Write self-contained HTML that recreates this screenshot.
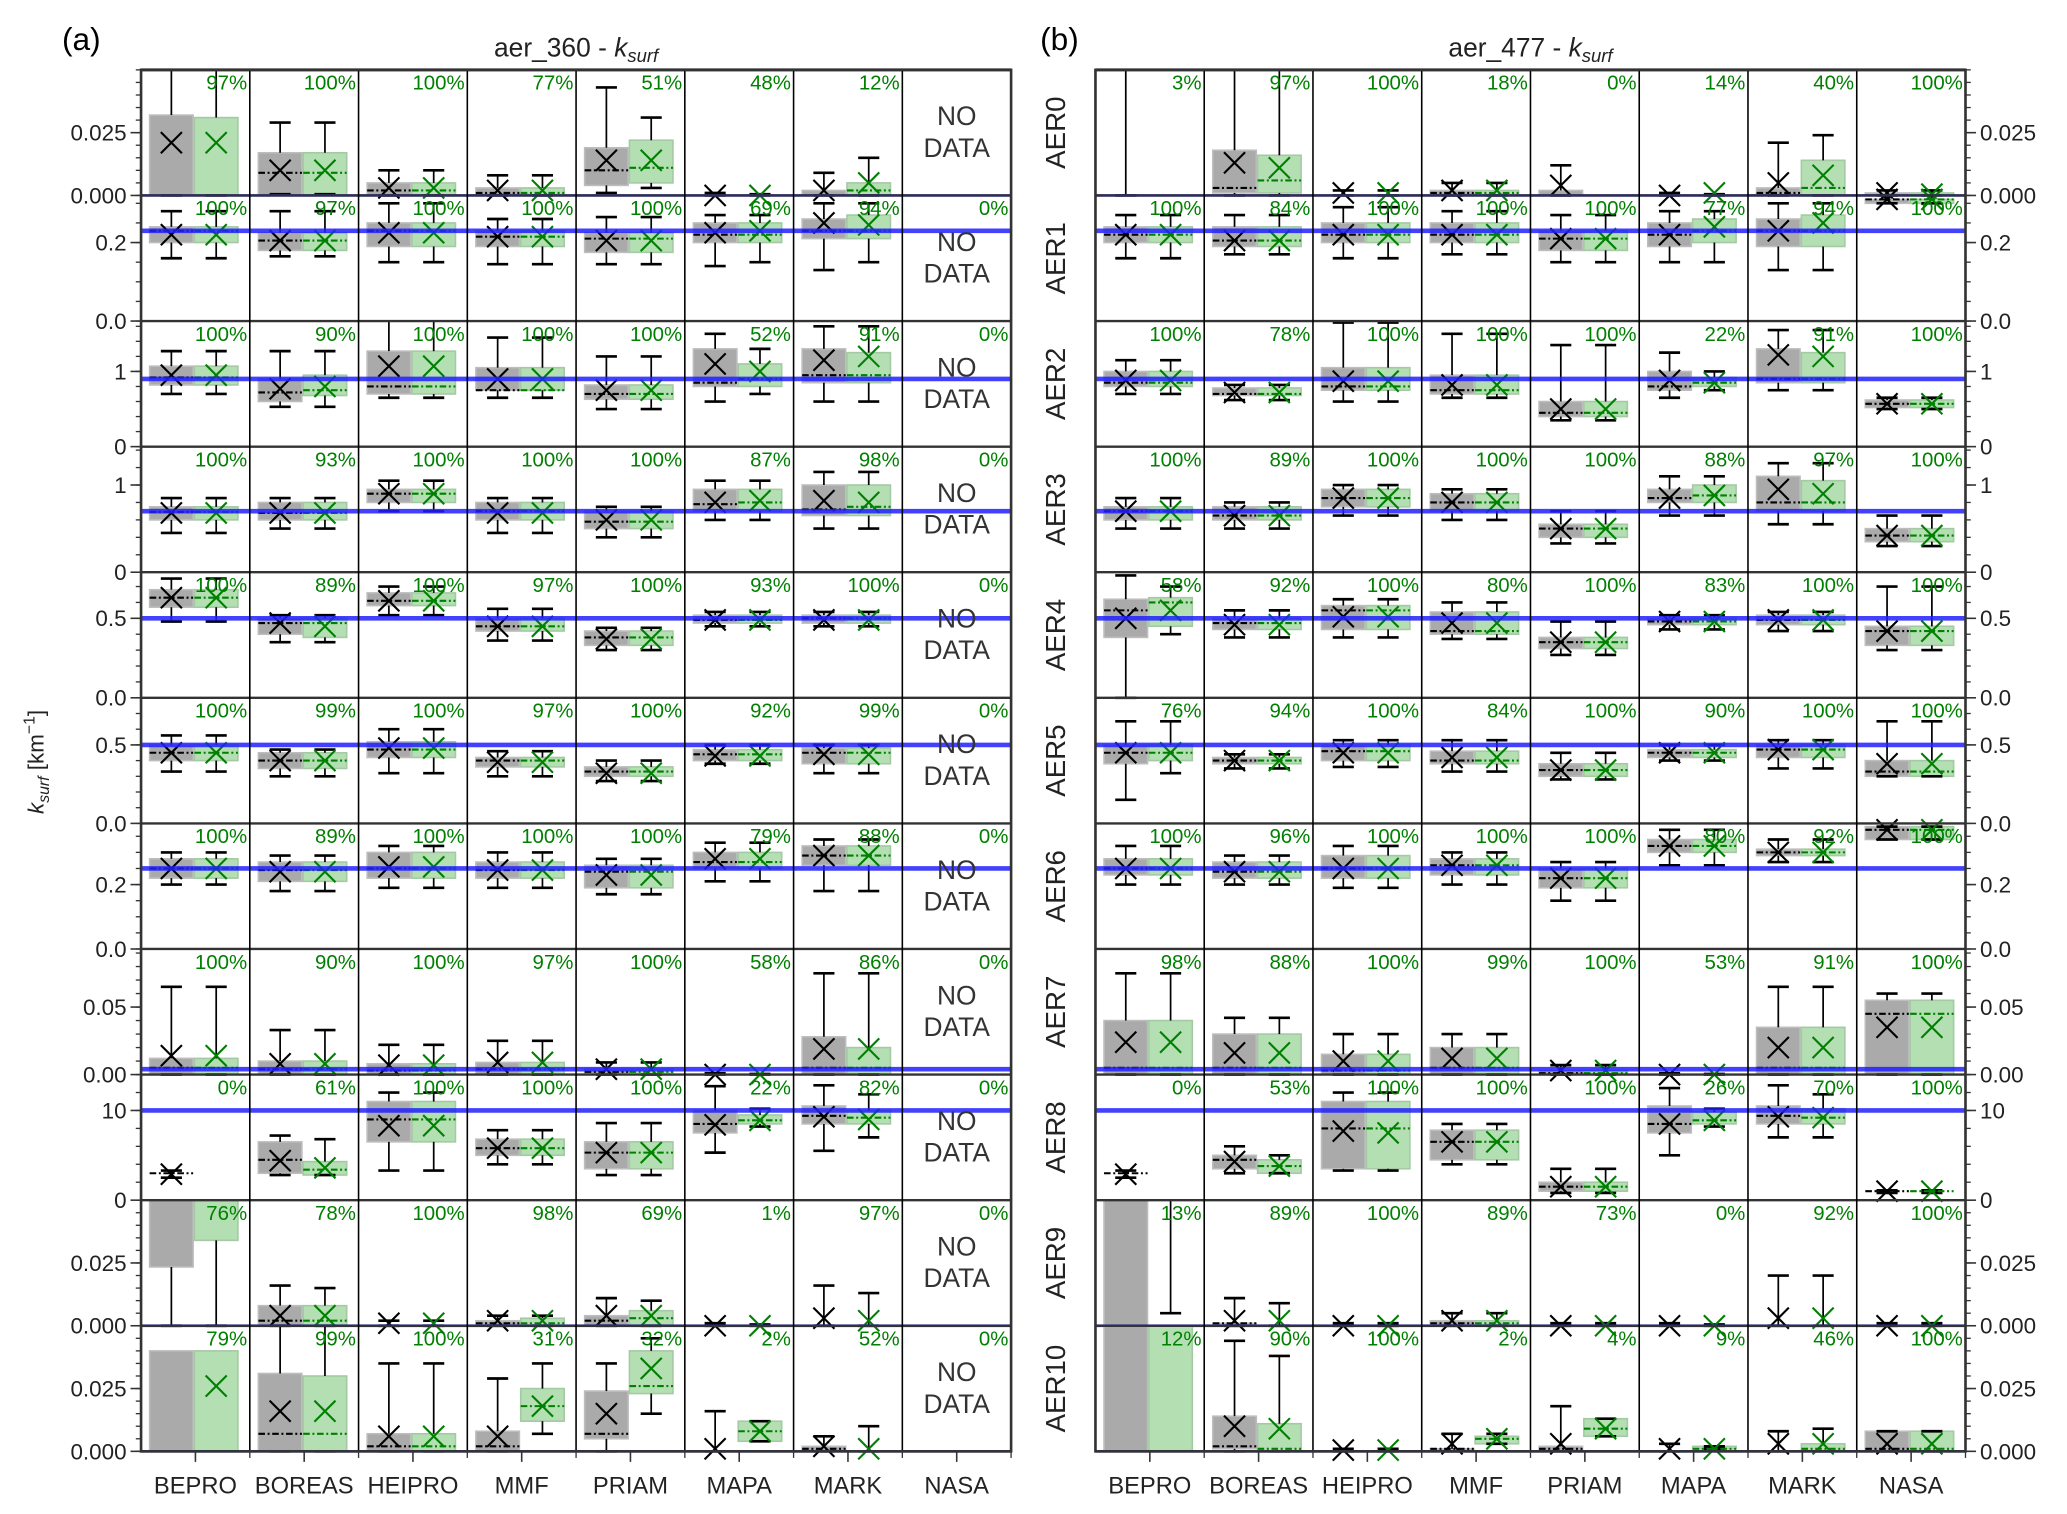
<!DOCTYPE html>
<html><head><meta charset="utf-8"><style>
html,body{margin:0;padding:0;background:#fff}
svg{display:block}
text{font-family:"Liberation Sans",sans-serif}
</style></head><body>
<svg id="chart" width="2067" height="1514" viewBox="0 0 1568 1148.5" xmlns="http://www.w3.org/2000/svg"></svg>
<script>
// ---- data ----
const models = ["BEPRO","BOREAS","HEIPRO","MMF","PRIAM","MAPA","MARK","NASA"];
const rowLabels = ["AER0","AER1","AER2","AER3","AER4","AER5","AER6","AER7","AER8","AER9","AER10"];
const rowMax = [0.05,0.32,1.67,1.44,0.79,0.8,0.39,0.093,14,0.05,0.05];
const rowTicks = [[0,0.025],[0,0.2],[0,1],[0,1],[0,0.5],[0,0.5],[0,0.2],[0,0.05],[0,10],[0,0.025],[0,0.025]];
const rowTickLabels = [["0.000","0.025"],["0.0","0.2"],["0","1"],["0","1"],["0.0","0.5"],["0.0","0.5"],["0.0","0.2"],["0.00","0.05"],["0","10"],["0.000","0.025"],["0.000","0.025"]];
const rowMinor = [0.005,0.05,0.2,0.2,0.1,0.1,0.05,0.01,2,0.005,0.005];
const refValues = [0,0.23,0.9,0.7,0.5,0.5,0.25,0.004,10,0,0];
// box stats: [low whisker, q1, median, q3, high whisker, mean]; null = absent
const pctA = [
 ["97%","100%","100%","77%","51%","48%","12%",""],
 ["100%","97%","100%","100%","100%","69%","94%","0%"],
 ["100%","90%","100%","100%","100%","52%","91%","0%"],
 ["100%","93%","100%","100%","100%","87%","98%","0%"],
 ["100%","89%","100%","97%","100%","93%","100%","0%"],
 ["100%","99%","100%","97%","100%","92%","99%","0%"],
 ["100%","89%","100%","100%","100%","79%","88%","0%"],
 ["100%","90%","100%","97%","100%","58%","86%","0%"],
 ["0%","61%","100%","100%","100%","22%","82%","0%"],
 ["76%","78%","100%","98%","69%","1%","97%","0%"],
 ["79%","99%","100%","31%","32%","2%","52%","0%"]];
const grayA = [
 [[0,0,null,0.032,0.06,0.021],[0.0005,0,0.009,0.017,0.029,0.010],[0,0,0.002,0.005,0.010,0.003],[0,0,0.001,0.003,0.008,0.002],[0.001,0.004,0.010,0.019,0.043,0.014],[0,null,null,null,0.001,0],[0,0,null,0.002,0.009,0.002],null],
 [[0.16,0.2,0.23,0.24,0.28,0.22],[0.165,0.18,0.205,0.225,0.28,0.205],[0.15,0.19,0.23,0.25,0.3,0.225],[0.145,0.19,0.215,0.23,0.26,0.215],[0.145,0.175,0.21,0.225,0.265,0.205],[0.14,0.2,0.22,0.25,0.27,0.225],[0.13,0.21,0.23,0.26,0.3,0.25],null],
 [[0.7,0.82,0.92,1.07,1.27,0.95],[0.53,0.6,0.72,0.9,1.27,0.77],[0.65,0.7,0.8,1.27,1.7,1.07],[0.65,0.75,0.75,1.05,1.45,0.9],[0.5,0.63,0.7,0.82,1.2,0.75],[0.6,0.8,0.85,1.3,1.5,1.1],[0.6,0.85,0.95,1.3,1.6,1.15],null],
 [[0.45,0.6,0.69,0.75,0.85,0.68],[0.5,0.6,0.68,0.8,0.85,0.68],[0.7,0.8,0.9,0.95,1.05,0.9],[0.45,0.6,0.7,0.8,0.85,0.68],[0.4,0.5,0.58,0.7,0.75,0.6],[0.6,0.7,0.78,0.95,1.05,0.8],[0.5,0.65,0.72,1.0,1.15,0.82],null],
 [[0.48,0.57,0.63,0.68,0.75,0.63],[0.35,0.4,0.47,0.5,0.52,0.47],[0.52,0.58,0.61,0.66,0.7,0.61],[0.36,0.42,0.45,0.5,0.56,0.45],[0.3,0.33,0.38,0.42,0.44,0.37],[0.45,0.47,0.49,0.52,0.54,0.49],[0.45,0.47,0.5,0.52,0.54,0.49],null],
 [[0.33,0.4,0.45,0.5,0.56,0.45],[0.3,0.35,0.4,0.45,0.47,0.4],[0.32,0.42,0.47,0.52,0.6,0.48],[0.3,0.36,0.4,0.42,0.46,0.39],[0.27,0.3,0.33,0.36,0.4,0.32],[0.38,0.4,0.44,0.47,0.5,0.43],[0.32,0.38,0.45,0.48,0.5,0.44],null],
 [[0.2,0.22,0.25,0.28,0.3,0.25],[0.18,0.21,0.245,0.27,0.29,0.24],[0.19,0.22,0.25,0.3,0.32,0.255],[0.19,0.22,0.245,0.27,0.3,0.245],[0.17,0.19,0.24,0.26,0.28,0.23],[0.21,0.25,0.27,0.3,0.33,0.28],[0.18,0.26,0.29,0.32,0.34,0.29],null],
 [[0,0,0.005,0.012,0.065,0.014],[0,0,0.004,0.01,0.033,0.008],[0,0,0.003,0.008,0.022,0.007],[0,0,0.004,0.009,0.025,0.009],[0,0,0.002,0.004,0.009,0.004],[0,null,null,null,0.001,0],[0,0,0.005,0.028,0.075,0.019],null],
 [[2.5,null,3.0,null,3.3,2.9],[2.8,3,4.5,6.5,7.2,4.4],[3.3,6.5,9,11,12,8.3],[4,5,5.8,6.8,7.8,5.8],[2.8,3.5,5.3,6.5,8.6,5.3],[5.3,7.5,8.5,10,12.7,8.4],[5.5,8.5,9.4,10.5,12.8,9.3],null],
 [[0,0.0234,null,0.06,0.06,null],[0,0,0.002,0.008,0.016,0.004],[0,null,null,null,0.002,0.001],[0,0,0.001,0.002,0.004,0.002],[0,0,0.002,0.004,0.011,0.004],[0,null,null,null,0.001,0],[0,null,null,null,0.016,0.003],null],
 [[0,0,null,0.04,null,null],[0,0,0.007,0.031,0.05,0.016],[0,0,0.002,0.007,0.035,0.006],[0,0,0.002,0.008,0.029,0.006],[0,0.005,0.007,0.024,0.035,0.015],[0,null,null,null,0.016,0.001],[0,0,0.001,0.002,0.006,0.002],null]];
const greenA = [
 [[0,0,null,0.031,0.06,0.021],[0.0005,0,0.009,0.017,0.029,0.010],[0,0,0.002,0.005,0.010,0.003],[0,0,0.001,0.003,0.008,0.002],[0.003,0.005,0.011,0.022,0.031,0.014],[0,null,null,null,0.0005,0],[0,0,0.002,0.005,0.015,0.005],null],
 [[0.16,0.2,0.23,0.24,0.28,0.22],[0.165,0.18,0.205,0.225,0.28,0.205],[0.15,0.19,0.23,0.25,0.3,0.225],[0.145,0.19,0.215,0.23,0.26,0.215],[0.145,0.175,0.21,0.225,0.265,0.205],[0.15,0.2,0.22,0.25,0.27,0.23],[0.15,0.21,0.23,0.27,0.3,0.245],null],
 [[0.7,0.82,0.92,1.07,1.27,0.95],[0.53,0.68,0.75,0.95,1.27,0.8],[0.65,0.7,0.8,1.27,1.7,1.07],[0.65,0.75,0.75,1.05,1.45,0.9],[0.5,0.63,0.7,0.82,1.2,0.75],[0.7,0.8,0.9,1.1,1.3,1.0],[0.6,0.85,0.95,1.25,1.6,1.2],null],
 [[0.45,0.6,0.69,0.75,0.85,0.68],[0.5,0.6,0.68,0.8,0.85,0.68],[0.7,0.8,0.9,0.95,1.05,0.9],[0.45,0.6,0.7,0.8,0.85,0.68],[0.4,0.5,0.58,0.7,0.75,0.6],[0.6,0.7,0.8,0.95,1.05,0.82],[0.5,0.65,0.75,1.0,1.15,0.8],null],
 [[0.48,0.57,0.63,0.68,0.75,0.63],[0.35,0.38,0.47,0.5,0.52,0.45],[0.52,0.58,0.61,0.66,0.7,0.61],[0.36,0.42,0.45,0.5,0.56,0.45],[0.3,0.33,0.38,0.42,0.44,0.37],[0.45,0.47,0.49,0.52,0.54,0.49],[0.45,0.47,0.5,0.52,0.54,0.49],null],
 [[0.33,0.4,0.45,0.5,0.56,0.45],[0.3,0.35,0.4,0.45,0.47,0.4],[0.32,0.42,0.47,0.52,0.6,0.48],[0.3,0.36,0.4,0.42,0.46,0.39],[0.27,0.3,0.33,0.36,0.4,0.32],[0.38,0.4,0.44,0.47,0.5,0.43],[0.32,0.38,0.45,0.48,0.5,0.44],null],
 [[0.2,0.22,0.25,0.28,0.3,0.25],[0.18,0.21,0.245,0.27,0.29,0.24],[0.19,0.22,0.25,0.3,0.32,0.255],[0.19,0.22,0.245,0.27,0.3,0.245],[0.17,0.19,0.24,0.26,0.28,0.23],[0.21,0.25,0.27,0.3,0.33,0.28],[0.18,0.26,0.29,0.32,0.34,0.29],null],
 [[0,0,0.005,0.012,0.065,0.014],[0,0,0.004,0.01,0.033,0.008],[0,0,0.003,0.008,0.022,0.007],[0,0,0.004,0.009,0.025,0.009],[0,0,0.002,0.004,0.009,0.004],[0,null,null,null,0.0005,0],[0,0,0.005,0.02,0.075,0.019],null],
 [null,[2.8,2.8,3.4,4.3,6.8,3.6],[3.3,6.5,9,11,12,8.3],[4,5,5.8,6.8,7.8,5.8],[2.8,3.5,5.3,6.5,8.6,5.3],[8.2,8.5,8.9,9.5,10.2,8.9],[7,8.5,9.2,10,11.8,9.0],null],
 [[0,0.034,null,0.06,0.06,null],[0,0,0.002,0.008,0.015,0.004],[0,null,null,null,0.002,0.001],[0,0,0.001,0.003,0.004,0.002],[0,0,0.003,0.006,0.01,0.004],[0,null,null,null,0.0005,0],[0,null,null,null,0.013,0.002],null],
 [[0,0,null,0.04,null,0.026],[0,0,0.007,0.03,0.05,0.016],[0,0,0.002,0.007,0.035,0.006],[0.007,0.012,0.018,0.025,0.035,0.018],[0.015,0.023,0.026,0.04,0.045,0.033],[0.004,0.004,0.008,0.012,0.012,0.008],[0,null,null,null,0.01,0.001],null]];
const pctB = [
 ["3%","97%","100%","18%","0%","14%","40%","100%"],
 ["100%","84%","100%","100%","100%","77%","94%","100%"],
 ["100%","78%","100%","100%","100%","22%","91%","100%"],
 ["100%","89%","100%","100%","100%","88%","97%","100%"],
 ["58%","92%","100%","80%","100%","83%","100%","100%"],
 ["76%","94%","100%","84%","100%","90%","100%","100%"],
 ["100%","96%","100%","100%","100%","80%","92%","100%"],
 ["98%","88%","100%","99%","100%","53%","91%","100%"],
 ["0%","53%","100%","100%","100%","26%","70%","100%"],
 ["13%","89%","100%","89%","73%","0%","92%","100%"],
 ["12%","90%","100%","2%","4%","9%","46%","100%"]];
const grayB = [
 [[0,null,null,null,0.06,null],[0,0.001,0.003,0.018,0.06,0.013],[0,null,null,null,0.002,0.001],[0,0,0.001,0.002,0.005,0.002],[0,0,null,0.002,0.012,0.004],[0,null,null,null,0.001,0],[0,0,0.001,0.003,0.021,0.005],[0,0,0,0.001,0.002,0.001]],
 [[0.16,0.2,0.22,0.24,0.27,0.22],[0.17,0.19,0.205,0.24,0.27,0.205],[0.16,0.2,0.22,0.25,0.29,0.22],[0.17,0.2,0.22,0.25,0.28,0.22],[0.15,0.18,0.21,0.23,0.27,0.21],[0.15,0.19,0.22,0.25,0.28,0.22],[0.13,0.19,0.23,0.26,0.3,0.23],[0.3,0.3,0.31,0.31,0.32,0.31]],
 [[0.7,0.8,0.85,1.0,1.15,0.88],[0.62,0.68,0.7,0.78,0.82,0.72],[0.6,0.75,0.8,1.05,1.65,0.87],[0.65,0.7,0.75,0.95,1.5,0.82],[0.35,0.4,0.45,0.6,1.35,0.5],[0.65,0.75,0.8,1.0,1.25,0.88],[0.75,0.85,0.9,1.3,1.55,1.22],[0.5,0.52,0.57,0.62,0.65,0.57]],
 [[0.5,0.6,0.7,0.75,0.85,0.7],[0.5,0.6,0.65,0.75,0.8,0.65],[0.65,0.75,0.85,0.95,1.0,0.85],[0.6,0.7,0.8,0.9,0.95,0.8],[0.33,0.4,0.5,0.55,0.7,0.5],[0.65,0.8,0.85,0.95,1.1,0.85],[0.55,0.7,0.8,1.1,1.25,0.95],[0.3,0.35,0.42,0.5,0.65,0.42]],
 [[0,0.38,0.55,0.62,0.77,0.5],[0.38,0.43,0.47,0.5,0.55,0.46],[0.38,0.43,0.55,0.58,0.62,0.51],[0.37,0.4,0.42,0.54,0.6,0.47],[0.27,0.31,0.35,0.38,0.48,0.35],[0.43,0.46,0.48,0.5,0.52,0.48],[0.42,0.46,0.49,0.52,0.54,0.49],[0.3,0.33,0.42,0.45,0.7,0.42]],
 [[0.15,0.38,0.45,0.5,0.65,0.45],[0.35,0.38,0.4,0.42,0.44,0.4],[0.36,0.4,0.46,0.5,0.53,0.45],[0.33,0.38,0.4,0.46,0.53,0.42],[0.28,0.3,0.34,0.38,0.45,0.34],[0.4,0.42,0.45,0.47,0.5,0.45],[0.35,0.42,0.47,0.5,0.53,0.47],[0.3,0.3,0.33,0.4,0.65,0.38]],
 [[0.2,0.23,0.25,0.28,0.32,0.25],[0.2,0.22,0.24,0.27,0.29,0.24],[0.19,0.22,0.25,0.29,0.32,0.25],[0.2,0.23,0.26,0.28,0.3,0.26],[0.15,0.19,0.22,0.25,0.27,0.22],[0.26,0.3,0.32,0.34,0.37,0.32],[0.27,0.29,0.3,0.31,0.34,0.3],[0.34,0.34,0.37,0.38,0.38,0.37]],
 [[0,0,0.005,0.04,0.075,0.024],[0,0,0.005,0.03,0.042,0.016],[0,0,0.003,0.015,0.03,0.01],[0,0,0.005,0.02,0.03,0.012],[0,0,0.001,0.003,0.007,0.003],[0,null,null,null,0.001,0],[0,0,0.005,0.035,0.065,0.02],[0,0,0.045,0.055,0.06,0.035]],
 [[2.5,null,3.0,null,3.3,2.9],[3,3.5,4.5,5,6,4.3],[3.3,3.5,8,11,12,7.7],[4,4.5,6.5,7.8,8.5,6.5],[0.8,1,1.5,2,3.5,1.5],[5,7.5,8.5,10.5,12.5,8.5],[7,8.5,9.4,10.5,12.8,9.3],[0.8,null,1.0,null,1.1,1.0]],
 [[0,0,null,0.06,null,null],[0,0,0.001,0.001,0.011,0.002],[0,null,null,null,0.001,0],[0,0,0.001,0.002,0.005,0.002],[0,null,null,null,0.001,0],[0,null,null,null,0.001,0],[0,null,null,null,0.02,0.003],[0,null,null,null,0.001,0]],
 [[0,0,null,0.06,null,null],[0,0.001,0.002,0.014,0.044,0.01],[0,null,null,null,0.001,0.0005],[0,0,0.001,0.001,0.007,0.003],[0,0,0.001,0.002,0.018,0.003],[0,null,null,null,0.003,0.001],[0,null,null,null,0.008,0.003],[0,0,0.001,0.008,0.008,0.003]]];
const greenB = [
 [null,[0,0.001,0.006,0.016,0.055,0.011],[0,null,null,null,0.002,0.001],[0,0,0.001,0.002,0.005,0.002],null,[0,null,null,null,0.0005,0.001],[0,0,0.003,0.014,0.024,0.008],[0,0,0,0.001,0.002,0.0005]],
 [[0.16,0.2,0.22,0.24,0.27,0.22],[0.17,0.19,0.205,0.24,0.27,0.205],[0.16,0.2,0.22,0.25,0.29,0.22],[0.17,0.2,0.22,0.25,0.28,0.22],[0.15,0.18,0.21,0.23,0.27,0.21],[0.15,0.2,0.23,0.26,0.28,0.24],[0.13,0.19,0.23,0.27,0.3,0.25],[0.3,0.3,0.31,0.31,0.32,0.31]],
 [[0.7,0.8,0.85,1.0,1.15,0.88],[0.62,0.68,0.7,0.78,0.82,0.72],[0.6,0.75,0.8,1.05,1.65,0.87],[0.65,0.7,0.75,0.95,1.5,0.82],[0.35,0.4,0.45,0.6,1.35,0.5],[0.75,0.8,0.85,0.92,1.0,0.85],[0.75,0.85,0.9,1.25,1.55,1.2],[0.5,0.52,0.57,0.62,0.65,0.57]],
 [[0.5,0.6,0.7,0.75,0.85,0.7],[0.5,0.6,0.65,0.75,0.8,0.65],[0.65,0.75,0.85,0.95,1.0,0.85],[0.6,0.7,0.8,0.9,0.95,0.8],[0.33,0.4,0.5,0.55,0.7,0.5],[0.65,0.8,0.88,1.0,1.1,0.88],[0.55,0.7,0.8,1.05,1.25,0.9],[0.3,0.35,0.42,0.5,0.65,0.42]],
 [[0.4,0.45,0.6,0.63,0.7,0.55],[0.38,0.43,0.47,0.5,0.55,0.46],[0.38,0.43,0.55,0.58,0.62,0.51],[0.37,0.4,0.42,0.54,0.6,0.47],[0.27,0.31,0.35,0.38,0.48,0.35],[0.43,0.46,0.48,0.5,0.52,0.48],[0.42,0.46,0.49,0.52,0.54,0.49],[0.3,0.33,0.42,0.45,0.7,0.42]],
 [[0.32,0.4,0.45,0.5,0.65,0.45],[0.35,0.38,0.4,0.42,0.44,0.4],[0.36,0.4,0.46,0.5,0.53,0.45],[0.33,0.38,0.4,0.46,0.53,0.42],[0.28,0.3,0.34,0.38,0.45,0.34],[0.4,0.42,0.45,0.47,0.5,0.45],[0.35,0.42,0.47,0.5,0.53,0.47],[0.3,0.3,0.33,0.4,0.65,0.38]],
 [[0.2,0.23,0.25,0.28,0.32,0.25],[0.2,0.22,0.24,0.27,0.29,0.24],[0.19,0.22,0.25,0.29,0.32,0.25],[0.2,0.23,0.26,0.28,0.3,0.26],[0.15,0.19,0.22,0.25,0.27,0.22],[0.26,0.3,0.32,0.34,0.37,0.32],[0.27,0.29,0.3,0.31,0.34,0.3],[0.34,0.34,0.37,0.38,0.38,0.37]],
 [[0,0,0.005,0.04,0.075,0.024],[0,0,0.005,0.03,0.042,0.016],[0,0,0.003,0.015,0.03,0.01],[0,0,0.005,0.02,0.03,0.012],[0,0,0.001,0.003,0.007,0.003],[0,null,null,null,0.0005,0],[0,0,0.005,0.035,0.065,0.02],[0,0,0.045,0.055,0.06,0.035]],
 [null,[3,3,3.8,4.5,5,3.8],[3.3,3.5,8,11,12,7.5],[4,4.5,6.5,7.8,8.5,6.5],[0.8,1,1.5,2,3.5,1.5],[8.2,8.5,8.9,9.8,10.2,8.9],[7,8.5,9.2,10.2,11.8,9.2],[0.8,null,1.0,null,1.1,1.0]],
 [[0.005,null,null,null,0.06,null],[0,null,null,null,0.009,0.002],[0,null,null,null,0.001,0],[0,0,0.001,0.002,0.005,0.002],[0,null,null,null,0.001,0],[0,null,null,null,0.0005,0],[0,null,null,null,0.02,0.003],[0,null,null,null,0.001,0]],
 [[0,0,null,0.06,null,null],[0,0,0.001,0.011,0.038,0.009],[0,null,null,null,0.001,0.0005],[0.003,0.003,0.005,0.006,0.007,0.005],[0.006,0.006,0.009,0.013,0.013,0.009],[0.001,0.001,0.001,0.002,0.002,0.001],[0,0,0.001,0.003,0.009,0.003],[0,0,0.001,0.008,0.008,0.003]]];

// ---- drawing ----
const NS="http://www.w3.org/2000/svg";
const svg=document.getElementById('chart');
function el(tag,attrs,parent){const e=document.createElementNS(NS,tag);for(const k in attrs)e.setAttribute(k,attrs[k]);(parent||svg).appendChild(e);return e;}
const TOP=53, ROWH=95.27, COLW=82.5;
const panels=[{x0:107,name:'a',gray:grayA,green:greenA,pct:pctA,title:'aer_360',nasaNoData:true,lblOff:60},
              {x0:831,name:'b',gray:grayB,green:greenB,pct:pctB,title:'aer_477',nasaNoData:false,lblOff:42}];
function yScale(r,v){const bottom=TOP+(r+1)*ROWH;const y=bottom-v/rowMax[r]*ROWH;return Math.max(TOP+r*ROWH,Math.min(bottom,y));}

function drawBox(g,r,cx,s,color,fill,stroke){
  if(!s) return;
  const [lo,q1,med,q3,hi,mean]=s;
  const hw=16.5;
  if(q1!==null&&q3!==null){
    const b=el('rect',{x:cx-hw,y:yScale(r,q3),width:2*hw,height:Math.max(0.5,yScale(r,q1)-yScale(r,q3)),fill:fill,stroke:stroke,'stroke-width':1.2},g);
    
    
  }
  if(lo!==null&&hi!==null){
    const ylo=yScale(r,lo),yhi=yScale(r,hi);
    const top=(q3!==null)?yScale(r,q3):yhi, bot=(q1!==null)?yScale(r,q1):ylo;
    el('line',{x1:cx,x2:cx,y1:yhi,y2:top,stroke:'#000','stroke-width':1.3},g);
    el('line',{x1:cx,x2:cx,y1:bot,y2:ylo,stroke:'#000','stroke-width':1.3},g);
    if(q1===null) el('line',{x1:cx,x2:cx,y1:yhi,y2:ylo,stroke:'#000','stroke-width':1.3},g);
    if(hi<rowMax[r]) el('line',{x1:cx-8,x2:cx+8,y1:yhi,y2:yhi,stroke:'#000','stroke-width':2},g);
    el('line',{x1:cx-8,x2:cx+8,y1:ylo,y2:ylo,stroke:'#000','stroke-width':2},g);
  }
  if(med!==null){
    const ym=yScale(r,med);
    el('line',{x1:cx-hw,x2:cx+hw,y1:ym,y2:ym,stroke:color,'stroke-width':1.6,'stroke-dasharray':'5,2,1.5,2'},g);
  }
  if(mean!==null){
    const ym=yScale(r,mean);
    const m=el('path',{d:`M${cx-8} ${ym-8}L${cx+8} ${ym+8}M${cx-8} ${ym+8}L${cx+8} ${ym-8}`,stroke:color,'stroke-width':1.6,fill:'none'},g);
    
    
  }
}

panels.forEach((p,pi)=>{
  const pg=el('g',{});
  
  
  const x1=p.x0+8*COLW;
  for(let r=0;r<11;r++){
    const rg=el('g',{},pg);
    
    
    for(let c=0;c<8;c++){
      const cl=p.x0+c*COLW;
      drawBox(rg,r,cl+23,p.gray[r][c],'#000','#aaaaaa','#bdbdbd');
      drawBox(rg,r,cl+57,p.green[r][c],'#008000','#b3dfb3','#a5c9a5');
    }
    const yr=yScale(r,refValues[r]);
    const rl=el('line',{x1:p.x0,x2:x1,y1:yr,y2:yr,stroke:'#2020ff','stroke-width':r===0||r>=9?2:3.5,opacity:0.85},rg);
    
    
    for(let c=0;c<8;c++){
      const cl=p.x0+c*COLW;
      const t=p.pct[r][c];
      if(t){const tx=el('text',{x:cl+COLW-2,y:TOP+r*ROWH+15,'text-anchor':'end','font-size':15.5,fill:'#008000'},rg);tx.textContent=t;
        
        }
      if(c===7&&p.nasaNoData){
        const n1=el('text',{x:cl+COLW/2,y:TOP+r*ROWH+42,'text-anchor':'middle','font-size':20,fill:'#333'},rg);n1.textContent='NO';
        const n2=el('text',{x:cl+COLW/2,y:TOP+r*ROWH+66,'text-anchor':'middle','font-size':20,fill:'#333'},rg);n2.textContent='DATA';
        
        
      }
    }
    const ax=pi===0?p.x0:x1, dir=pi===0?-1:1;
    for(let v=0;v<=rowMax[r]+1e-9;v+=rowMinor[r]){
      const y=yScale(r,v); el('line',{x1:ax,x2:ax+dir*4,y1:y,y2:y,stroke:'#333','stroke-width':1},pg);
    }
    rowTicks[r].forEach((v,i)=>{
      const y=yScale(r,v); el('line',{x1:ax,x2:ax+dir*8,y1:y,y2:y,stroke:'#333','stroke-width':1.2},pg);
      const t=el('text',{x:ax+dir*11,y:y+6,'text-anchor':pi===0?'end':'start','font-size':17,fill:'#222'},pg);
      t.textContent=rowTickLabels[r][i];
      
      
    });
    el('line',{x1:p.x0,x2:x1,y1:TOP+r*ROWH,y2:TOP+r*ROWH,stroke:'#333','stroke-width':r===0?2.2:1.8},pg);
  }
  for(let c=1;c<8;c++) el('line',{x1:p.x0+c*COLW,x2:p.x0+c*COLW,y1:TOP,y2:TOP+11*ROWH,stroke:'#000','stroke-width':1.2},pg);
  el('rect',{x:p.x0,y:TOP,width:8*COLW,height:11*ROWH,fill:'none',stroke:'#333','stroke-width':2},pg);
  models.forEach((m,c)=>{
    const cx=p.x0+c*COLW+COLW/2;
    el('line',{x1:cx,x2:cx,y1:TOP+11*ROWH,y2:TOP+11*ROWH+8,stroke:'#333','stroke-width':1.2},pg);
    el('line',{x1:p.x0+(c+1)*COLW,x2:p.x0+(c+1)*COLW,y1:TOP+11*ROWH,y2:TOP+11*ROWH+5,stroke:'#333','stroke-width':1},pg);
    const t=el('text',{x:cx,y:1133,'text-anchor':'middle','font-size':18,fill:'#222'},pg);
    t.textContent=m;
    
    
  });
  const tt=el('text',{x:p.x0+4*COLW,y:43,'text-anchor':'middle','font-size':20,fill:'#222'},pg);
  tt.innerHTML=p.title+' - <tspan font-style="italic">k</tspan><tspan font-style="italic" font-size="14" dy="4">surf</tspan>';
  
  
  const lb=el('text',{x:p.x0-p.lblOff,y:38,'font-size':24,fill:'#000'},pg);
  lb.textContent='('+p.name+')';
  
  
});
rowLabels.forEach((l,r)=>{
  const y=TOP+r*ROWH+ROWH/2;
  const t=el('text',{x:808,y:y,'text-anchor':'middle','font-size':21,fill:'#222',transform:`rotate(-90 808 ${y})`});
  t.textContent=l;
  
  
});
const yl=el('text',{x:33,y:578,'text-anchor':'middle','font-size':17,fill:'#222',transform:'rotate(-90 33 578)'});
yl.innerHTML='<tspan font-style="italic">k</tspan><tspan font-style="italic" font-size="12" dy="4">surf</tspan><tspan dy="-4"> [km</tspan><tspan font-size="12" dy="-7">−1</tspan><tspan dy="7">]</tspan>';


</script>
</body></html>
